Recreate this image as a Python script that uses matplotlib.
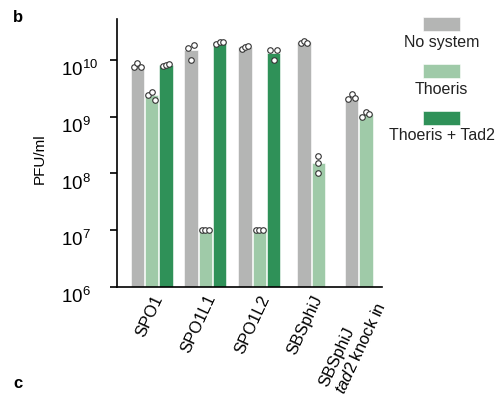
import numpy as np
import matplotlib
matplotlib.use("Agg")
import matplotlib.pyplot as plt
from matplotlib.patches import Rectangle

plt.rcParams["font.family"] = ["Liberation Sans", "DejaVu Sans"]
plt.rcParams["mathtext.fontset"] = "custom"
plt.rcParams["mathtext.rm"] = "Liberation Sans"
plt.rcParams["mathtext.it"] = "Liberation Sans:italic"
plt.rcParams["mathtext.bf"] = "Liberation Sans:bold"

# phages on the x axis
phages = ["SPO1", "SPO1L1", "SPO1L2", "SBSphiJ", "SBSphiJ\n$\\it{tad2}$ knock in"]

# PFU/ml replicates per phage (None = not tested)
no_system = [
    [7.6e9, 8.7e9, 7.6e9],
    [1.6e10, 1.0e10, 1.8e10],
    [1.55e10, 1.67e10, 1.77e10],
    [1.97e10, 2.16e10, 1.97e10],
    [2.03e9, 2.5e9, 2.16e9],
]
thoeris = [
    [2.4e9, 2.7e9, 2.0e9],
    [1e7, 1e7, 1e7],
    [1e7, 1e7, 1e7],
    [2.0e8, 1.5e8, 1.0e8],
    [0.98e9, 1.22e9, 1.11e9],
]
thoeris_tad2 = [
    [7.9e9, 8.2e9, 8.4e9],
    [1.92e10, 2.1e10, 2.1e10],
    [1.5e10, 1.0e10, 1.5e10],
    None,
    None,
]

series_names = ["No system", "Thoeris", "Thoeris + Tad2"]
series_colors = ["#b4b5b4", "#9fcaa8", "#2f9158"]
series_data = [no_system, thoeris, thoeris_tad2]

# left edge of each phage group, in bar slots
group_start = [0, 3.74, 7.51, 11.63, 14.95]
bar_w = 0.93
dodge = 0.24


def point_offsets(vals):
    # spread replicates sideways only when they sit close together
    logs = np.log10(vals)
    order = np.argsort(logs)
    clusters = [[order[0]]]
    for a, b in zip(order[:-1], order[1:]):
        if logs[b] - logs[a] < 0.105:
            clusters[-1].append(b)
        else:
            clusters.append([b])
    offs = np.zeros(len(vals))
    for cl in clusters:
        cl = sorted(cl)
        if len(cl) > 1:
            offs[cl] = np.linspace(-dodge, dodge, len(cl))
    return offs


fig = plt.figure(figsize=(5.0, 3.99), dpi=100)
ax = fig.add_axes([0.234, 0.2807, 0.53, 0.6717])

tick_pos = []
for g, start in enumerate(group_start):
    n = 0
    for s, data in enumerate(series_data):
        vals = data[g]
        if vals is None:
            continue
        x = start + s
        ax.bar(x, np.mean(vals), width=bar_w, align="edge", bottom=1e6,
               color=series_colors[s], edgecolor="white", linewidth=0.4, zorder=2)
        offs = point_offsets(vals)
        ax.plot(x + bar_w / 2 + offs, vals, "o", ms=4, mfc="white", mec="#333333",
                mew=0.8, zorder=3, clip_on=False)
        n += 1
    tick_pos.append(start + n * 0.5 - 0.035)

ax.set_yscale("log")
ax.set_ylim(1e6, 10 ** 10.72)
ax.set_xlim(-0.956, 17.54)
ax.set_yticks([1e6, 1e7, 1e8, 1e9, 1e10])
ax.yaxis.set_minor_locator(matplotlib.ticker.NullLocator())
ax.set_ylabel("PFU/ml", fontsize=11)
ax.yaxis.set_label_coords(-0.265, 0.48)

ax.set_xticks(tick_pos)
ax.set_xticklabels(phages, rotation=65, ha="right", rotation_mode="anchor",
                   fontsize=12, multialignment="left")
ax.tick_params(axis="x", length=0, pad=4)
ax.tick_params(axis="y", length=5, width=1.2, labelsize=13.5, pad=35)
plt.setp(ax.get_yticklabels(), ha="left", va="top")

for side in ["top", "right"]:
    ax.spines[side].set_visible(False)
for side in ["left", "bottom"]:
    ax.spines[side].set_linewidth(1.2)

# legend: colour swatch with its label underneath
W, H = 500.0, 399.0
for i, (name, col) in enumerate(zip(series_names, series_colors)):
    top = 17 + i * 47
    fig.patches.append(Rectangle((423 / W, 1 - (top + 14) / H), 37 / W, 14 / H,
                                 transform=fig.transFigure, color=col, ec="white", lw=0.4))
    fig.text(441.5 / W, 1 - (top + 25) / H, name, ha="center", va="center",
             fontsize=11.5, color="#222222")

fig.text(13 / W, 1 - 17 / H, "b", fontsize=12, fontweight="bold", va="center")
fig.text(13 / W, 1 - 384 / H, "c", fontsize=12, fontweight="bold", va="center")

fig.savefig("out.png", dpi=100)
